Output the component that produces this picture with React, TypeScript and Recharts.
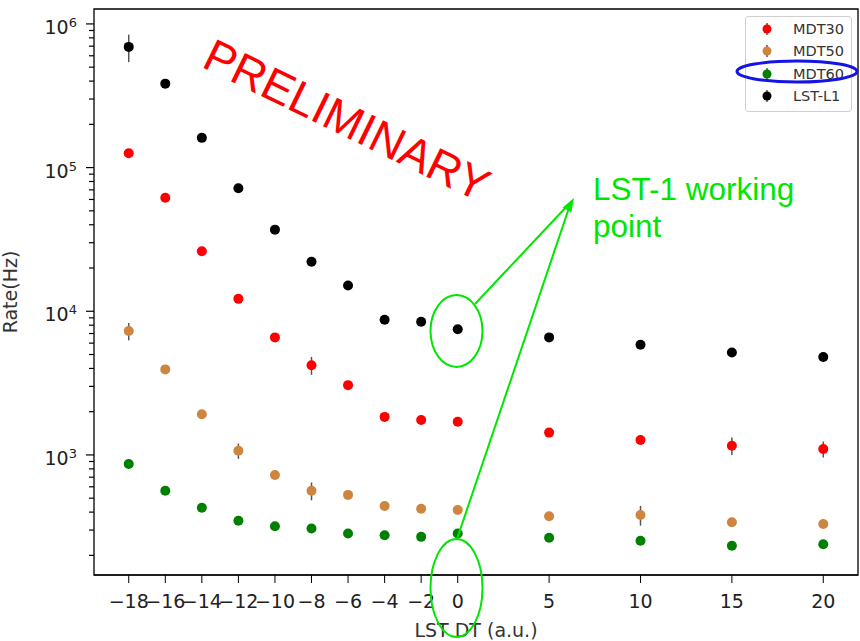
import { ScatterChart, Scatter, XAxis, YAxis, ErrorBar, Legend, ReferenceArea, Label } from "recharts"

const dtValues = [-18, -16, -14, -12, -10, -8, -6, -4, -2, 0, 5, 10, 15, 20]
const xTicks = [-18, -16, -14, -12, -10, -8, -6, -4, -2, 0, 5, 10, 15, 20]
const yTicks = [
	200, 300, 400, 500, 600, 700, 800, 900,
	1000, 2000, 3000, 4000, 5000, 6000, 7000, 8000, 9000,
	10000, 20000, 30000, 40000, 50000, 60000, 70000, 80000, 90000,
	100000, 200000, 300000, 400000, 500000, 600000, 700000, 800000, 900000,
	1000000,
]

const mdt30Rate = [126000, 61700, 26200, 12200, 6580, 4210, 3060, 1840, 1750, 1700, 1430, 1270, 1160, 1100]
const mdt30Err = [5000, 2500, 1000, 500, 300, 600, 150, 80, 80, 80, 80, 80, 160, 140]
const mdt50Rate = [7280, 3940, 1920, 1070, 725, 563, 527, 441, 422, 414, 374, 382, 340, 331]
const mdt50Err = [1000, 200, 80, 130, 40, 80, 30, 25, 25, 25, 25, 60, 20, 20]
const mdt60Rate = [865, 563, 429, 348, 319, 308, 284, 276, 269, 284, 265, 253, 233, 239]
const mdt60Err = [40, 25, 15, 12, 10, 10, 8, 8, 8, 8, 8, 8, 8, 8]
const lstRate = [692000, 384000, 161000, 71800, 37000, 22100, 15100, 8730, 8450, 7490, 6580, 5840, 5170, 4800]
const lstErr = [150000, 15000, 6000, 2500, 1200, 800, 500, 300, 300, 250, 200, 200, 150, 150]

const X_DOMAIN: [number, number] = [-19.9, 21.9]
const Y_DOMAIN: [number, number] = [146, 1270000]

const series = [
	{ name: "MDT30", color: "#ff0000", rate: mdt30Rate, err: mdt30Err },
	{ name: "MDT50", color: "#cd853f", rate: mdt50Rate, err: mdt50Err },
	{ name: "MDT60", color: "#008000", rate: mdt60Rate, err: mdt60Err },
	{ name: "LST-L1", color: "#000000", rate: lstRate, err: lstErr },
]
const seriesOrder = series.map((s) => s.name)

const toPoints = (rate: number[], err: number[]) => dtValues.map((dt, i) => ({ dt, rate: rate[i], err: err[i] }))

const FONT = "'DejaVu Sans', sans-serif"
const SANS = "'Liberation Sans', Arial, sans-serif"

function LogTick({ x, y, payload }: any) {
	const v = payload.value as number
	const exp = Math.round(Math.log10(v))
	const major = Math.abs(v - Math.pow(10, exp)) < v * 1e-6
	return (
		<g>
			<line x1={x - (major ? 8 : 5)} x2={x} y1={y} y2={y} stroke="#000" strokeWidth={1.2} />
			{major && (
				<text x={x - 17} y={y + 10} textAnchor="end" fontSize={19} fill="#222" fontFamily={FONT}>
					10
					<tspan dy={-7} fontSize={13}>{exp}</tspan>
				</text>
			)}
		</g>
	)
}

function SeriesLegend({ payload }: any) {
	const items = [...(payload ?? [])].sort(
		(a: any, b: any) => seriesOrder.indexOf(a.value) - seriesOrder.indexOf(b.value)
	)
	return (
		<div
			style={{
				border: "1px solid #d0d0d0",
				borderRadius: 3,
				background: "#fff",
				padding: "1px 0 4px 0",
				width: 107,
				boxSizing: "border-box",
				fontFamily: FONT,
				fontSize: 14.5,
				color: "#333",
			}}
		>
			{items.map((entry: any) => (
				<div key={entry.value} style={{ display: "flex", alignItems: "center", height: 22.3 }}>
					<svg width={47} height={22} style={{ flex: "none" }}>
						<line x1={21} x2={21} y1={5} y2={17} stroke="#555" strokeWidth={1.5} />
						<circle cx={21} cy={11} r={4.5} fill={entry.color} />
					</svg>
					<span>{entry.value}</span>
				</div>
			))}
		</div>
	)
}

function Annotations() {
	const green = "#00e600"
	return (
		<svg width={860} height={641} style={{ position: "absolute", left: 0, top: 0, pointerEvents: "none" }}>
			<text
				x={347}
				y={120}
				transform="rotate(26 347 120)"
				textAnchor="middle"
				dominantBaseline="central"
				fontFamily={SANS}
				fontSize={46}
				fill="#ff0000"
			>
				PRELIMINARY
			</text>
			<text x={593} y={200} fontFamily={SANS} fontSize={31.5} fill={green}>
				<tspan x={593}>LST-1 working</tspan>
				<tspan x={593} dy={37}>point</tspan>
			</text>
			<ellipse cx={456.5} cy={331} rx={26} ry={36} fill="none" stroke={green} strokeWidth={2} />
			<ellipse cx={456.5} cy={588} rx={26} ry={49} fill="none" stroke={green} strokeWidth={2} />
			<line x1={475} y1={304} x2={569} y2={204} stroke={green} strokeWidth={2} />
			<line x1={457} y1={539} x2={570} y2={205} stroke={green} strokeWidth={2} />
			<polygon points="574,198 571.3,212.6 562.7,207.6" fill={green} />
			<ellipse cx={797} cy={71.5} rx={60} ry={10.5} fill="none" stroke="#1414e6" strokeWidth={3} />
		</svg>
	)
}

export default function App() {
	return (
		<div style={{ position: "absolute", left: 0, top: 0, width: 860, height: 641, background: "#fff", fontFamily: FONT }}>
			<ScatterChart width={860} height={641} margin={{ top: 9, right: 2, bottom: 0, left: 0 }}>
				<XAxis
					type="number"
					dataKey="dt"
					domain={X_DOMAIN}
					allowDataOverflow
					ticks={xTicks}
					interval={0}
					height={66}
					stroke="#000"
					tickSize={8}
					tickMargin={12}
					tickFormatter={(v: number) => (v < 0 ? "\u2212" + Math.abs(v) : String(v))}
					tick={{ fontSize: 19, fill: "#222", fontFamily: FONT }}
				>
					<Label value="LST DT (a.u.)" position="insideBottom" offset={4} fontSize={19} fill="#333" fontFamily={FONT} />
				</XAxis>
				<YAxis
					type="number"
					dataKey="rate"
					scale="log"
					domain={Y_DOMAIN}
					allowDataOverflow
					ticks={yTicks}
					interval={0}
					width={94}
					axisLine={false}
					tickLine={false}
					tickSize={0}
					tickMargin={0}
					tick={(p: any) => <LogTick {...p} />}
				>
					<Label
						value="Rate(Hz)"
						position="insideLeft"
						angle={-90}
						offset={20}
						dx={-10}
						fontSize={19}
						fill="#333"
						fontFamily={FONT}
						style={{ textAnchor: "middle" }}
					/>
				</YAxis>
				<ReferenceArea
					x1={X_DOMAIN[0]}
					x2={X_DOMAIN[1]}
					y1={Y_DOMAIN[0]}
					y2={Y_DOMAIN[1]}
					fill="none"
					stroke="#000"
					strokeWidth={1.3}
					ifOverflow="visible"
				/>
				{series.map((s) => (
					<Scatter
						key={s.name}
						name={s.name}
						data={toPoints(s.rate, s.err)}
						fill={s.color}
						isAnimationActive={false}
						shape={(p: any) => <circle cx={p.cx} cy={p.cy} r={5} fill={s.color} />}
					>
						<ErrorBar dataKey="err" direction="y" width={0} stroke="#555" strokeWidth={1.5} isAnimationActive={false} />
					</Scatter>
				))}
				<Legend
					layout="vertical"
					align="center"
					verticalAlign="middle"
					wrapperStyle={{ left: 745, top: 16, width: 107 }}
					content={(props: any) => <SeriesLegend {...props} />}
				/>
			</ScatterChart>
			<Annotations />
		</div>
	)
}
